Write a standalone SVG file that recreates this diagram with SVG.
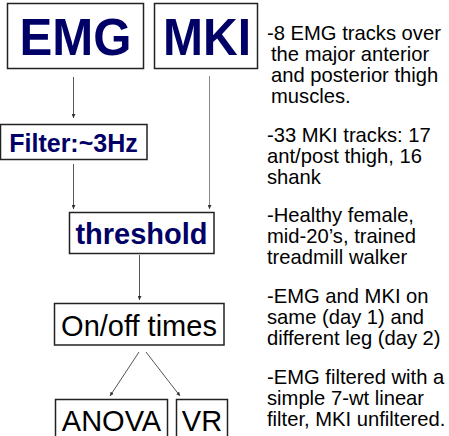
<svg xmlns="http://www.w3.org/2000/svg" width="449" height="436" viewBox="0 0 449 436">
<defs>
<style>
.box{fill:#fff;stroke:#222;stroke-width:1.5}
.big{font-family:"Liberation Sans",Arial,sans-serif;font-weight:bold;fill:#000066;text-anchor:middle}
.plain{font-family:"Liberation Sans",Arial,sans-serif;fill:#000;text-anchor:middle}
.note{font-family:"Liberation Sans",Arial,sans-serif;font-size:20.2px;fill:#000}
.conn{stroke:#555;stroke-width:1;fill:none;marker-end:url(#ah)}
</style>
<marker id="ah" viewBox="0 0 6 6" refX="6" refY="3" markerWidth="4" markerHeight="4" orient="auto" markerUnits="userSpaceOnUse">
<path d="M0,0 L6,3 L0,6 z" fill="#333"/>
</marker>
</defs>
<rect width="449" height="436" fill="#fff"/>
<g id="connectors">
<line class="conn" x1="73.5" y1="77" x2="73.5" y2="118"/>
<line class="conn" x1="73.5" y1="164" x2="73.5" y2="209"/>
<line class="conn" x1="209.5" y1="76" x2="209.5" y2="209" style="stroke:#888"/>
<line class="conn" x1="139.5" y1="255" x2="139.5" y2="300"/>
<line class="conn" x1="139" y1="352" x2="110" y2="396"/>
<line class="conn" x1="146" y1="352" x2="180" y2="396"/>
</g>
<g id="emg">
<rect class="box" x="7.5" y="3.5" width="136" height="65"/>
<text class="big" x="75.5" y="55" font-size="52" textLength="112" lengthAdjust="spacingAndGlyphs">EMG</text>
</g>
<g id="mki">
<rect class="box" x="154.5" y="3.5" width="103" height="65"/>
<text class="big" x="207" y="55" font-size="52" textLength="88" lengthAdjust="spacingAndGlyphs">MKI</text>
</g>
<g id="filter">
<rect class="box" x="0.5" y="124.5" width="146.5" height="35"/>
<text class="big" x="73.5" y="152" font-size="25">Filter:~3Hz</text>
</g>
<g id="threshold">
<rect class="box" x="69.5" y="212.5" width="144.5" height="41"/>
<text class="big" x="141.5" y="244" font-size="29">threshold</text>
</g>
<g id="onoff">
<rect class="box" x="54.5" y="303.5" width="169.5" height="41.5"/>
<text class="plain" x="139" y="336" font-size="29">On/off times</text>
</g>
<g id="anova">
<rect class="box" x="55.5" y="399.5" width="112" height="45"/>
<text class="plain" x="111.5" y="431" font-size="29">ANOVA</text>
</g>
<g id="vr">
<rect class="box" x="176.5" y="399.5" width="51" height="45"/>
<text class="plain" x="202" y="431" font-size="29">VR</text>
</g>
<g id="notes">
<text class="note" x="267" y="40">-8 EMG tracks over</text>
<text class="note" x="271" y="61">the major anterior</text>
<text class="note" x="271" y="82">and posterior thigh</text>
<text class="note" x="271" y="103">muscles.</text>
<text class="note" x="267" y="142">-33 MKI tracks: 17</text>
<text class="note" x="267" y="163">ant/post thigh, 16</text>
<text class="note" x="267" y="184">shank</text>
<text class="note" x="267" y="222">-Healthy female,</text>
<text class="note" x="267" y="243">mid-20’s, trained</text>
<text class="note" x="267" y="264">treadmill walker</text>
<text class="note" x="267" y="303">-EMG and MKI on</text>
<text class="note" x="267" y="324">same (day 1) and</text>
<text class="note" x="267" y="345">different leg (day 2)</text>
<text class="note" x="267" y="384">-EMG filtered with a</text>
<text class="note" x="267" y="405">simple 7-wt linear</text>
<text class="note" x="267" y="426">filter, MKI unfiltered.</text>
</g>
</svg>
